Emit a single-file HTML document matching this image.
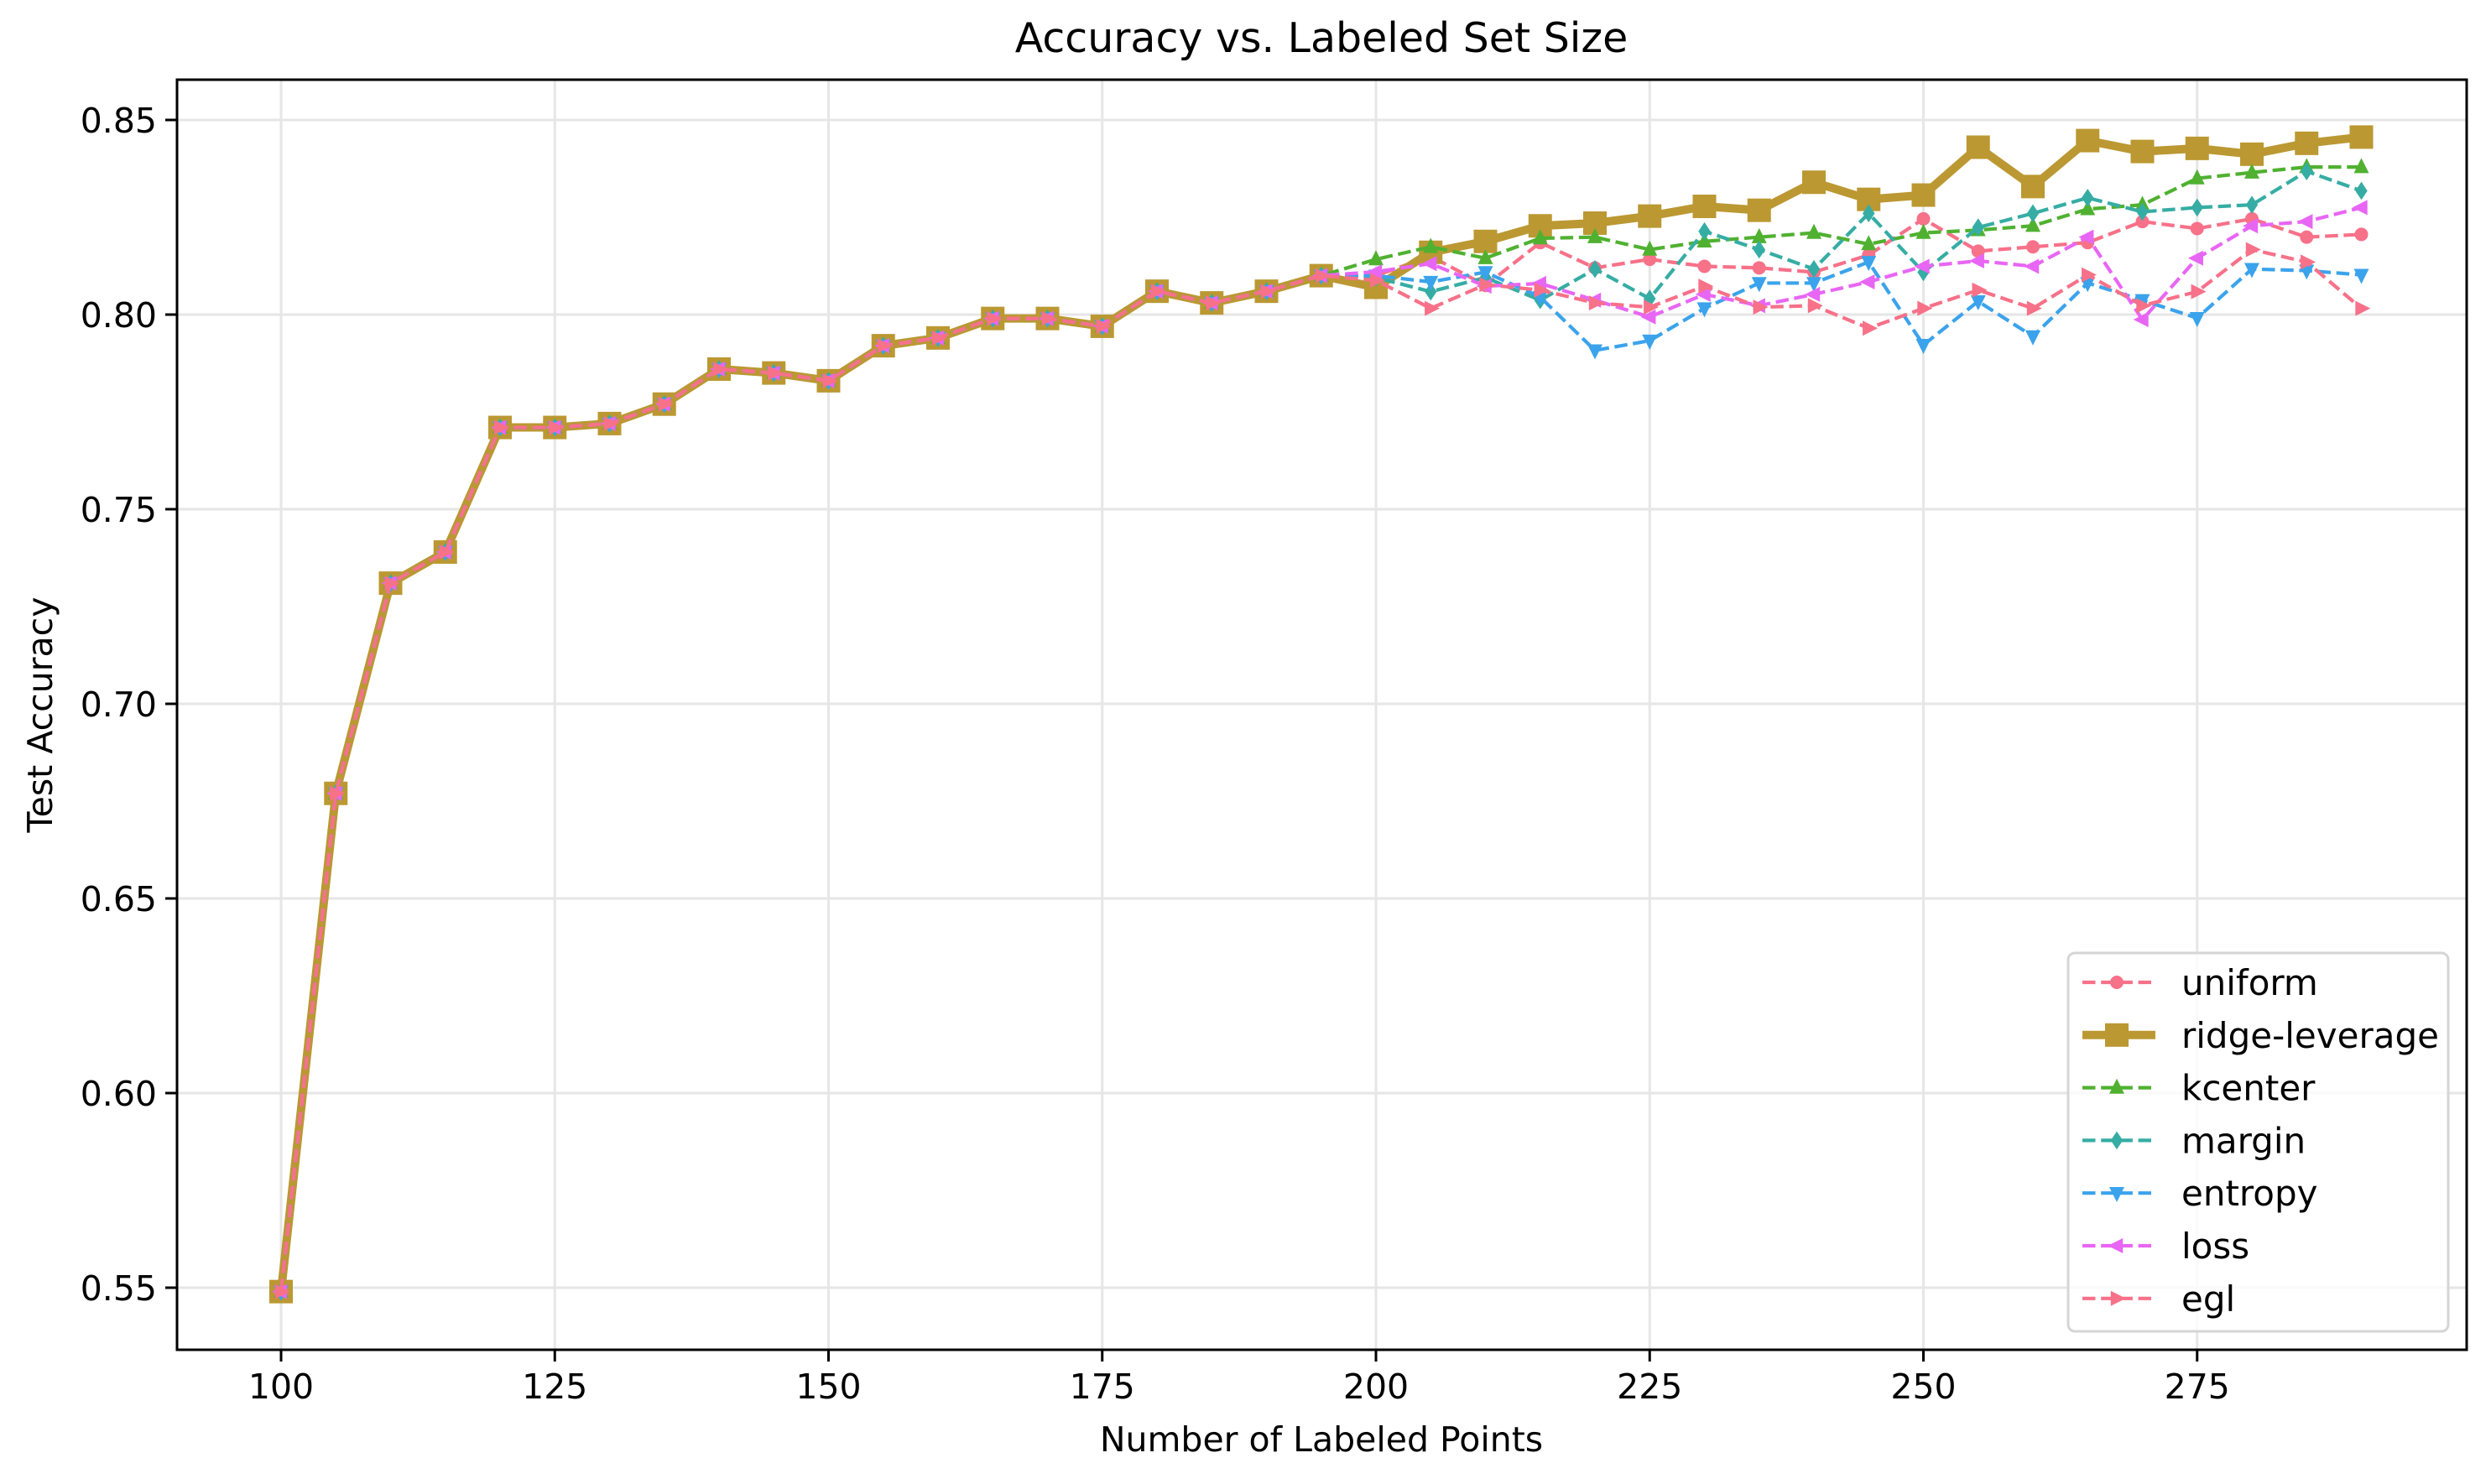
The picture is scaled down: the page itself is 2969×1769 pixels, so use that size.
<!DOCTYPE html>
<html><head><meta charset="utf-8"><style>
html,body{margin:0;padding:0;background:#fff;}
svg{display:block;}
text{font-family:"DejaVu Sans","Liberation Sans",sans-serif;fill:#000;}
</style></head><body>
<svg id="c" width="2969" height="1769" xmlns="http://www.w3.org/2000/svg"></svg>
<script>
const svg=document.getElementById('c');
const X=x=>335+(x-100)*13.05;
const Y=v=>143+(0.85-v)*4640;
let h='';
const L=211,R=2940,T=95,B=1609;
for(let x=100;x<=275;x+=25){h+=`<line x1="${X(x)}" y1="${T}" x2="${X(x)}" y2="${B}" stroke="#e6e6e6" stroke-width="3"/>`;}
for(let i=0;i<=6;i++){const v=0.55+i*0.05;h+=`<line x1="${L}" y1="${Y(v)}" x2="${R}" y2="${Y(v)}" stroke="#e6e6e6" stroke-width="3"/>`;}
const common=[0.549,0.677,0.731,0.739,0.771,0.771,0.772,0.777,0.786,0.785,0.783,0.792,0.794,0.799,0.799,0.797,0.806,0.803,0.806,0.810];
const S={
uniform:{c:'#f77189',m:'o',d:[0.810,0.815,0.8075,0.8185,0.812,0.8142,0.8124,0.812,0.8109,0.8153,0.8246,0.8163,0.8174,0.8185,0.8239,0.8221,0.8246,0.8199,0.8206]},
ridge:{c:'#bb9832',m:'s',d:[0.807,0.816,0.8188,0.8228,0.8235,0.8253,0.8278,0.8268,0.834,0.8296,0.8307,0.843,0.8329,0.8447,0.8419,0.8427,0.8412,0.844,0.8456]},
kcenter:{c:'#50b131',m:'^',d:[0.8142,0.8174,0.8145,0.8196,0.8199,0.8167,0.8188,0.8199,0.821,0.8181,0.821,0.8217,0.8228,0.8271,0.8282,0.835,0.8365,0.8379,0.8379]},
margin:{c:'#36ada4',m:'D',d:[0.8095,0.8059,0.8095,0.8037,0.8117,0.8041,0.8214,0.8167,0.8117,0.826,0.8109,0.8224,0.826,0.83,0.8264,0.8275,0.8282,0.8368,0.8318]},
entropy:{c:'#3ba3ec',m:'v',d:[0.810,0.8084,0.8109,0.8045,0.7908,0.7933,0.8016,0.8081,0.8081,0.8135,0.7922,0.8034,0.7944,0.8081,0.8037,0.7991,0.8117,0.8113,0.8102]},
loss:{c:'#e866f4',m:'<',d:[0.811,0.8131,0.8073,0.808,0.8037,0.7994,0.8052,0.8023,0.8052,0.8084,0.8124,0.8138,0.8124,0.8199,0.7987,0.8145,0.8228,0.8239,0.8275]},
egl:{c:'#f77189',m:'>',d:[0.8088,0.8016,0.8077,0.8063,0.803,0.8019,0.8073,0.8019,0.8023,0.7965,0.8016,0.8063,0.8016,0.8102,0.8023,0.8059,0.8167,0.8135,0.8016]}
};
function mk(m,x,y,c){
 const r=9;
 if(m==='o')return `<circle cx="${x}" cy="${y}" r="8" fill="${c}"/>`;
 if(m==='s')return `<rect x="${x-14}" y="${y-14}" width="28" height="28" fill="${c}"/>`;
 let p;
 if(m==='^')p=[[x,y-r*1.2],[x-r,y+r*0.8],[x+r,y+r*0.8]];
 if(m==='v')p=[[x,y+r*1.2],[x-r,y-r*0.8],[x+r,y-r*0.8]];
 if(m==='<')p=[[x-r*1.2,y],[x+r*0.8,y-r],[x+r*0.8,y+r]];
 if(m==='>')p=[[x+r*1.2,y],[x-r*0.8,y-r],[x-r*0.8,y+r]];
 if(m==='D')p=[[x,y-r*1.2],[x+r*0.8,y],[x,y+r*1.2],[x-r*0.8,y]];
 return `<polygon points="${p.map(q=>q.join(',')).join(' ')}" fill="${c}"/>`;
}
for(const k in S){
 const s=S[k];const vals=common.concat(s.d);
 const pts=vals.map((v,i)=>[X(100+5*i),Y(v)]);
 const sw=k==='ridge'?10:4.2;
 const dash=k==='ridge'?'':'stroke-dasharray="15.5,6.7"';
 h+=`<polyline points="${pts.map(p=>p.join(',')).join(' ')}" fill="none" stroke="${s.c}" stroke-width="${sw}" ${dash} stroke-linejoin="round"/>`;
 pts.forEach(p=>h+=mk(s.m,p[0],p[1],s.c));
}
h+=`<rect x="${L}" y="${T}" width="${R-L}" height="${B-T}" fill="none" stroke="#000" stroke-width="3"/>`;
for(let x=100;x<=275;x+=25){h+=`<line x1="${X(x)}" y1="${B}" x2="${X(x)}" y2="${B+14}" stroke="#000" stroke-width="3"/><text x="${X(x)}" y="${B+58}" font-size="41" text-anchor="middle">${x}</text>`;}
for(let i=0;i<=6;i++){const v=0.55+i*0.05;h+=`<line x1="${L-14}" y1="${Y(v)}" x2="${L}" y2="${Y(v)}" stroke="#000" stroke-width="3"/><text x="${L-24}" y="${Y(v)+15}" font-size="41" text-anchor="end">${v.toFixed(2)}</text>`;}
h+=`<text x="1575" y="62" font-size="49" text-anchor="middle">Accuracy vs. Labeled Set Size</text>`;
h+=`<text x="1575" y="1730" font-size="41" text-anchor="middle">Number of Labeled Points</text>`;
h+=`<text transform="translate(62,852) rotate(-90)" font-size="41" text-anchor="middle">Test Accuracy</text>`;
h+=`<rect x="2465" y="1136" width="453" height="451" rx="8" fill="#fff" fill-opacity="0.8" stroke="#d5d5d5" stroke-width="3"/>`;
const names=[['uniform','uniform'],['ridge','ridge-leverage'],['kcenter','kcenter'],['margin','margin'],['entropy','entropy'],['loss','loss'],['egl','egl']];
names.forEach((n,i)=>{const s=S[n[0]];const y=1171+i*62.8;
 const sw=n[0]==='ridge'?10:4.2;const dash=n[0]==='ridge'?'':'stroke-dasharray="15.5,6.7"';
 h+=`<line x1="2482" y1="${y}" x2="${n[0]==='ridge'?2569:2564}" y2="${y}" stroke="${s.c}" stroke-width="${sw}" ${dash}/>`;
 h+=mk(s.m,2523,y,s.c);
 h+=`<text x="2600" y="${y+15}" font-size="42">${n[1]}</text>`;
});
svg.innerHTML=h;
</script>
</body></html>
